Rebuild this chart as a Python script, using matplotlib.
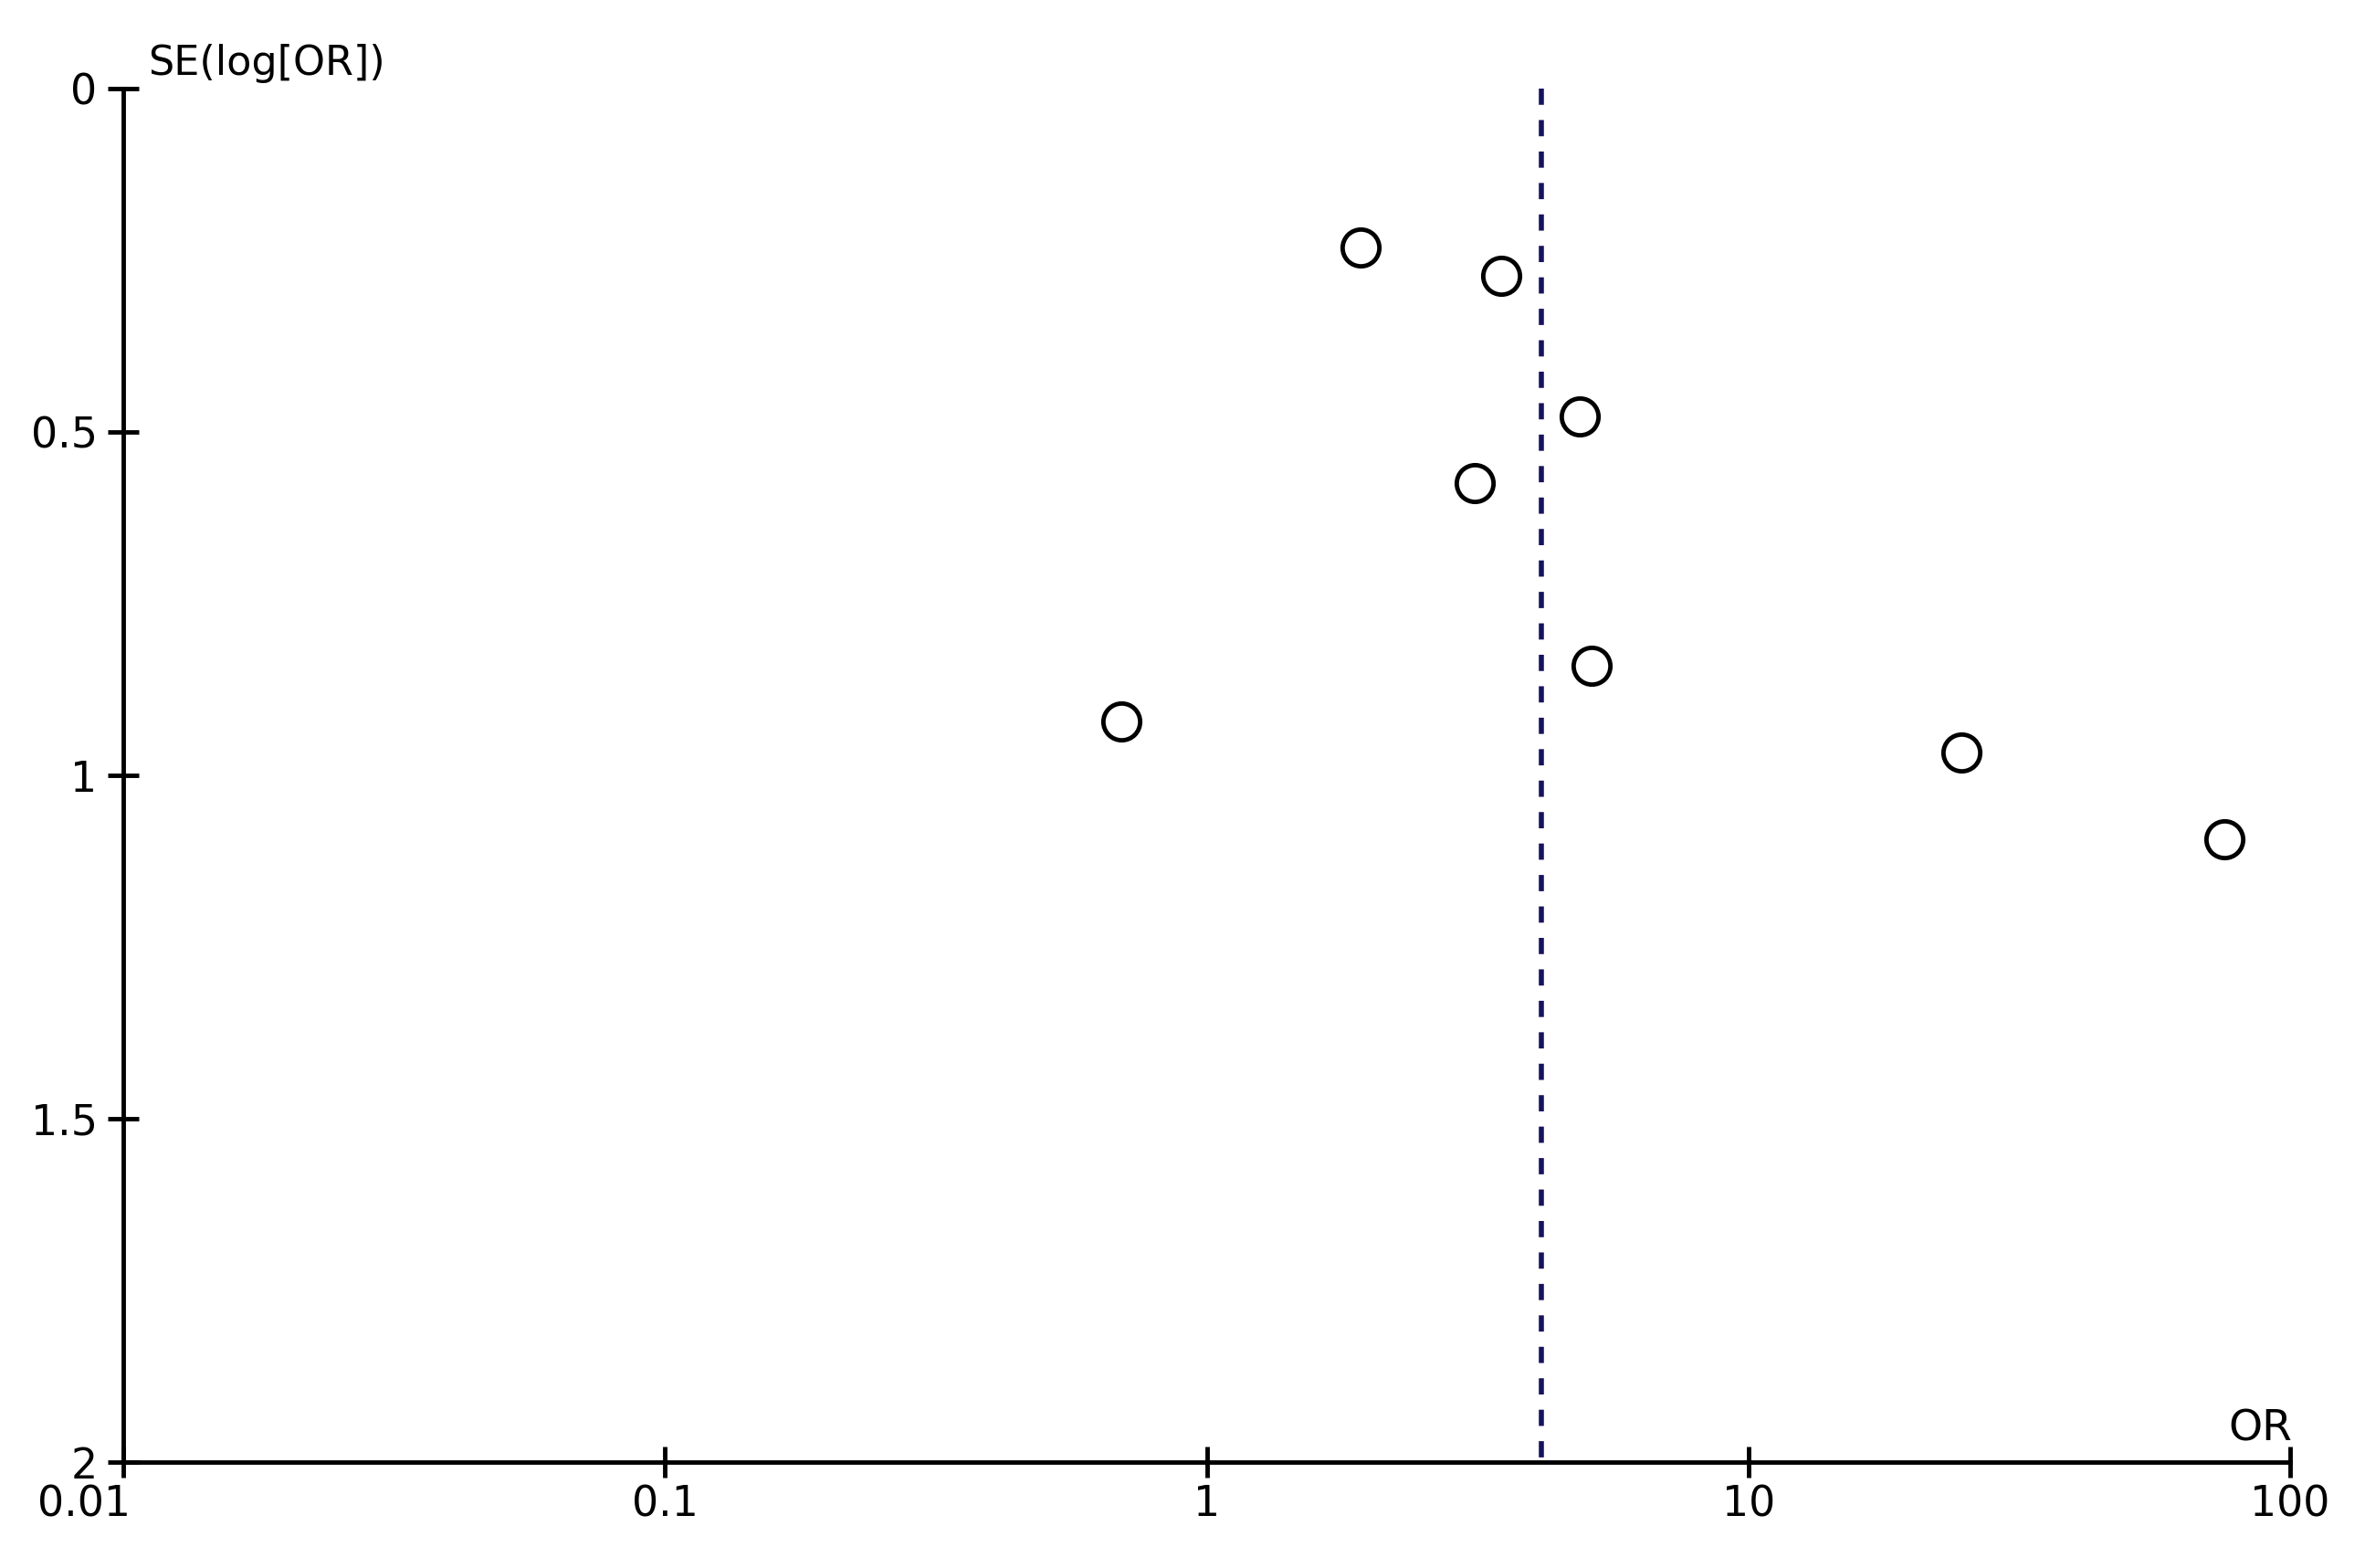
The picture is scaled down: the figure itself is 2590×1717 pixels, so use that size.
import matplotlib
matplotlib.use("Agg")
import matplotlib.pyplot as plt
from matplotlib.transforms import ScaledTranslation

# Data
odds_ratio = [1.92, 3.50, 4.88, 3.12, 5.13, 0.695, 24.7, 75.6]
se_log_or = [0.232, 0.272, 0.477, 0.574, 0.841, 0.922, 0.967, 1.093]
pooled_or = 4.15

x_ticks = [0.01, 0.1, 1, 10, 100]
x_tick_labels = ["0.01", "0.1", "1", "10", "100"]
y_ticks = [0, 0.5, 1, 1.5, 2]
y_tick_labels = ["0", "0.5", "1", "1.5", "2"]

W, H = 2590, 1717
fig = plt.figure(figsize=(W / 100, H / 100), dpi=100)
ax = fig.add_axes([135 / W, 1 - 1601 / H, (2508 - 135) / W, (1601 - 97) / H])

ax.set_xscale("log")
ax.set_xlim(0.01, 100)
ax.set_ylim(2, 0)

ax.plot([pooled_or, pooled_or], [0, 2], color="#16125e", lw=4.0,
        dashes=(3.2, 3.0), solid_capstyle="butt", dash_capstyle="butt", zorder=2)

ax.plot(odds_ratio, se_log_or, linestyle="none", marker="o", ms=29,
        mfc="white", mec="black", mew=3.5, zorder=3)

for s in ["top", "right"]:
    ax.spines[s].set_visible(False)
for s in ["left", "bottom"]:
    ax.spines[s].set_linewidth(3.5)
    ax.spines[s].set_color("black")

ax.set_xticks(x_ticks)
ax.set_xticklabels(x_tick_labels)
ax.set_yticks(y_ticks)
ax.set_yticklabels(y_tick_labels)
ax.minorticks_off()
ax.tick_params(axis="both", which="major", direction="inout", length=25,
               width=3.5, labelsize=33, colors="black")
ax.tick_params(axis="y", pad=8)
ax.tick_params(axis="x", pad=5)

# shift first x tick label left as in the reference
lbl = ax.get_xticklabels()[0]
lbl.set_transform(lbl.get_transform() + ScaledTranslation(-0.43, 0, fig.dpi_scale_trans))

fig.text(162 / W, 1 - 82 / H, "SE(log[OR])", fontsize=32, ha="left", va="baseline")
fig.text(2510 / W, 1 - 1577 / H, "OR", fontsize=34, ha="right", va="baseline")

fig.savefig("out.png", dpi=100, facecolor="white")
